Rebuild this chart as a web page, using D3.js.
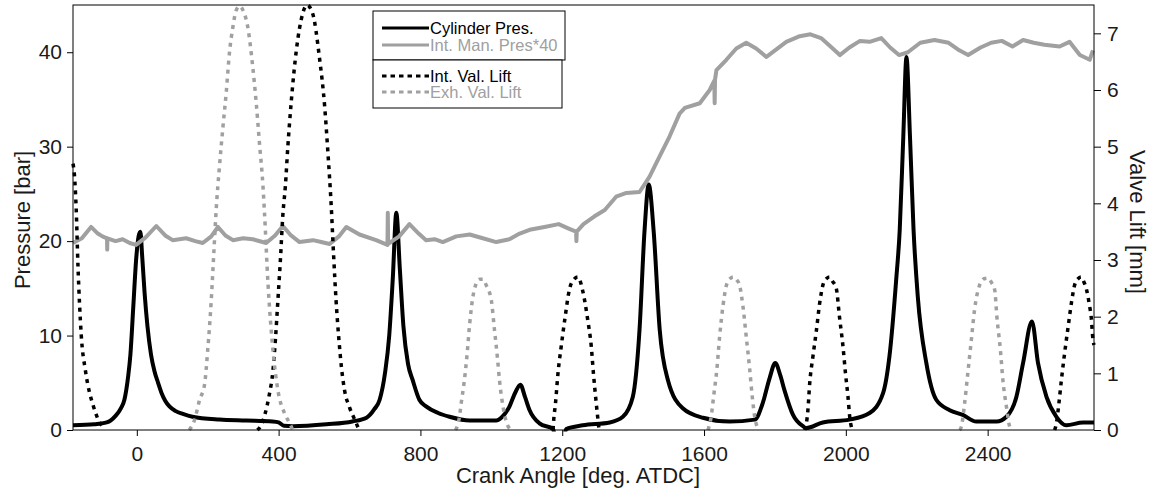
<!DOCTYPE html>
<html>
<head>
<meta charset="utf-8">
<script src="https://cdn.jsdelivr.net/npm/d3@7"></script>
<style>
  body { margin: 0; background: #fff; }
  svg { display: block; font-family: "Liberation Sans", Arial, sans-serif; }
</style>
</head>
<body>
<svg id="chart" width="1155" height="492"></svg>
<script>
// cylinder pressure [bar] vs crank angle
const cylAngle = [-180, -120, -85, -60, -45, -35, -25, -18, -10, -2, 5, 10, 15, 22, 30, 40, 50, 60, 70, 80, 92, 110, 130, 157, 233, 309, 383, 400, 415, 440, 535, 608, 648, 670, 685, 700, 712, 722, 732, 742, 752, 765, 778, 797, 816, 850, 882, 939, 1014, 1028, 1050, 1068, 1082, 1095, 1108, 1136, 1174, 1180, 1205, 1211, 1258, 1334, 1371, 1399, 1418, 1432, 1444, 1458, 1475, 1498, 1540, 1597, 1672, 1743, 1766, 1785, 1801, 1815, 1827, 1851, 1879, 1888, 1935, 2010, 2067, 2105, 2123, 2142, 2152, 2162, 2171, 2181, 2191, 2203, 2227, 2255, 2293, 2330, 2368, 2425, 2453, 2481, 2500, 2525, 2542, 2566, 2594, 2622, 2669, 2700];
const cylPres  = [0.5, 0.6, 0.8, 1.5, 2.3, 3.2, 5.5, 8, 13, 18, 20.5, 21, 18.5, 14.5, 11, 8, 6.2, 5.0, 3.9, 3.1, 2.5, 2.0, 1.7, 1.4, 1.1, 1.0, 0.9, 0.8, 0.45, 0.4, 0.6, 0.9, 1.3, 2.2, 3.2, 6, 10, 16, 23, 17, 11, 7, 5.3, 3.2, 2.5, 1.8, 1.4, 1.0, 1.0, 1.3, 2.4, 4, 4.8, 3.5, 2.1, 0.7, 0.1, -0.6, -0.6, 0.1, 0.5, 0.8, 1.4, 3.5, 10.6, 21, 26, 21, 10.6, 5.3, 2.3, 1.3, 0.9, 1.1, 2.9, 5.5, 7.1, 5.8, 4.2, 1.6, 0.4, 0.2, 0.8, 1.1, 1.8, 3.9, 7.8, 15.9, 21.2, 31, 39.5, 31, 21.2, 14.1, 7.1, 3.2, 2.1, 1.6, 0.9, 0.9, 1.4, 3.5, 7.1, 11.5, 7.1, 3.5, 1.4, 0.5, 0.8, 0.8];

// intake manifold pressure * 40 [bar]
const manAngle = [-180, -155, -129, -110, -97, -84, -83.5, -83, -60, -40, -20, -2, 25, 55, 80, 101, 139, 165, 186, 210, 229, 250, 271, 300, 327, 365, 390, 412, 435, 459, 497, 520, 544, 570, 591, 628, 675, 707, 708, 709, 740, 769, 795, 816, 840, 863, 901, 939, 976, 1014, 1051, 1080, 1108, 1150, 1190, 1220, 1239, 1240, 1241, 1260, 1290, 1320, 1352, 1381, 1418, 1446, 1475, 1503, 1531, 1546, 1588, 1616, 1629, 1630, 1631, 1635, 1663, 1691, 1719, 1747, 1776, 1804, 1832, 1870, 1900, 1930, 1960, 1983, 2010, 2040, 2067, 2100, 2125, 2150, 2175, 2210, 2250, 2290, 2320, 2345, 2380, 2410, 2440, 2470, 2500, 2530, 2560, 2603, 2631, 2660, 2688, 2697];
const manPres  = [19.8, 20.3, 21.5, 20.8, 20.5, 20.3, 19.1, 20.3, 20.0, 20.2, 19.8, 19.6, 20.4, 21.6, 20.6, 20.1, 20.3, 20.0, 19.8, 20.5, 21.5, 20.6, 20.1, 20.3, 20.2, 19.8, 20.6, 21.6, 20.6, 19.9, 20.1, 19.9, 19.7, 20.5, 21.5, 20.7, 20.1, 19.6, 23.0, 19.7, 20.5, 21.8, 20.8, 20.1, 20.2, 19.9, 20.5, 20.7, 20.3, 19.9, 20.2, 20.8, 21.2, 21.5, 21.8, 21.3, 21.0, 20.0, 21.0, 21.8, 22.6, 23.3, 24.7, 25.1, 25.2, 26.8, 29.0, 31.1, 33.5, 34.1, 34.6, 36.0, 37.0, 34.6, 37.1, 38.1, 39.2, 40.4, 41.0, 40.4, 39.5, 40.3, 41.1, 41.7, 41.9, 41.5, 40.5, 39.7, 40.5, 41.2, 41.1, 41.5, 40.5, 39.7, 40.0, 41.0, 41.3, 41.0, 40.2, 39.7, 40.5, 41.0, 41.2, 40.6, 41.3, 41.0, 40.8, 40.6, 41.1, 39.7, 39.2, 40.2];

// intake valve lift [mm], null = valve closed
const intAngle = [-180, -176, -171, -166, -157, -145, -133, -124, -110, -96, -95,
  340, 352, 362, 373, 384, 391, 398, 405, 412, 419, 426, 436, 450, 468, 480, 496, 515, 530, 539, 548, 555, 562, 570, 577, 586, 600, 617, 627, 628,
  1174, 1176, 1181, 1188, 1197, 1207, 1221, 1232, 1244, 1258, 1272, 1282, 1288, 1296, 1300, 1304, 1305,
  1884, 1893, 1898, 1907, 1917, 1926, 1935, 1945, 1954, 1963, 1973, 1982, 1992, 1999, 2006, 2011, 2018, 2019,
  2589, 2594, 2601, 2608, 2617, 2627, 2636, 2645, 2655, 2664, 2671, 2678, 2688, 2692, 2697, 2700];
const intLift  = [4.7, 4.5, 3.9, 2.9, 1.7, 1.05, 0.65, 0.45, 0.2, 0.05, null,
  0, 0.1, 0.29, 0.6, 1.05, 1.6, 2.29, 3.0, 3.8, 4.3, 5.0, 5.82, 6.7, 7.35, 7.5, 7.35, 6.58, 5.7, 4.9, 4.0, 3.1, 2.29, 1.6, 1.12, 0.7, 0.4, 0.15, 0, null,
  0, 0.18, 0.47, 1.0, 1.47, 1.94, 2.5, 2.65, 2.7, 2.45, 1.94, 1.47, 1.0, 0.47, 0.23, 0, null,
  0, 0.35, 0.82, 1.29, 1.76, 2.23, 2.55, 2.67, 2.7, 2.62, 2.5, 2.0, 1.47, 1.0, 0.59, 0.23, 0, null,
  0, 0.12, 0.47, 0.88, 1.35, 1.82, 2.23, 2.55, 2.67, 2.7, 2.62, 2.5, 2.17, 2.0, 1.6, 1.5];

// exhaust valve lift [mm]
const exhAngle = [148, 163, 177, 191, 200, 210, 217, 224, 233, 243, 252, 262, 271, 280, 290, 300, 313, 327, 337, 346, 356, 360, 370, 384, 398, 417, 431, 440, 441,
  899, 910, 915, 924, 931, 939, 948, 957, 967, 976, 986, 1000, 1009, 1017, 1023, 1033, 1042, 1056, 1057,
  1611, 1620, 1627, 1636, 1644, 1653, 1663, 1673, 1683, 1692, 1700, 1710, 1719, 1729, 1736, 1743, 1755, 1756,
  2321, 2326, 2335, 2344, 2354, 2363, 2377, 2390, 2401, 2411, 2420, 2426, 2436, 2443, 2453, 2462, 2466];
const exhLift  = [0, 0.18, 0.53, 0.8, 1.41, 2.29, 3.1, 3.9, 4.64, 5.35, 5.94, 6.7, 7.11, 7.4, 7.48, 7.4, 7.11, 6.41, 5.76, 5.06, 4.29, 3.85, 2.59, 1.41, 0.7, 0.29, 0.12, 0, null,
  0, 0.23, 0.47, 0.88, 1.29, 1.88, 2.35, 2.58, 2.66, 2.66, 2.55, 2.29, 1.76, 1.29, 0.88, 0.41, 0.15, 0, null,
  0, 0.23, 0.59, 1.06, 1.65, 2.17, 2.55, 2.67, 2.7, 2.65, 2.56, 2.17, 1.65, 1.06, 0.59, 0.23, 0, null,
  0, 0.06, 0.47, 1.0, 1.59, 2.12, 2.55, 2.67, 2.68, 2.6, 2.47, 2.0, 1.41, 0.88, 0.41, 0.06, 0];

const xTicks = [0, 400, 800, 1200, 1600, 2000, 2400];
const yTicks = [0, 10, 20, 30, 40];
const y2Ticks = [0, 1, 2, 3, 4, 5, 6, 7];
const legendLabels = ['Cylinder Pres.', 'Int. Man. Pres*40', 'Int. Val. Lift', 'Exh. Val. Lift'];

const GRAY = '#a0a0a0';
const svg = d3.select('#chart');
const pL = 73, pR = 1094, pT = 5, pB = 430;

const x = d3.scaleLinear().domain([-180, 2700]).range([pL, pR]);
const y = d3.scaleLinear().domain([0, 45]).range([pB, pT]);
const y2 = d3.scaleLinear().domain([0, 7.5]).range([pB, pT]);

svg.append('defs').append('clipPath').attr('id', 'clip')
  .append('rect').attr('x', pL).attr('y', pT - 3).attr('width', pR - pL).attr('height', pB - pT + 4.5);

const zip = (a, b) => a.map((v, i) => [v, b[i]]);

const line = d3.line()
  .defined(d => d[1] != null)
  .x(d => x(d[0]))
  .y(d => y(d[1]));
const line2 = d3.line()
  .defined(d => d[1] != null)
  .x(d => x(d[0]))
  .y(d => y2(d[1]))
  .curve(d3.curveMonotoneX);

const plot = svg.append('g');

plot.append('path')
  .attr('clip-path', 'url(#clip)')
  .attr('d', line.curve(d3.curveMonotoneX)(zip(cylAngle, cylPres)))
  .attr('fill', 'none').attr('stroke', '#000').attr('stroke-width', 4)
  .attr('stroke-linejoin', 'round');

plot.append('path')
  .attr('d', line.curve(d3.curveLinear)(zip(manAngle, manPres)))
  .attr('fill', 'none').attr('stroke', GRAY).attr('stroke-width', 4)
  .attr('stroke-linejoin', 'round');

plot.append('path')
  .attr('d', line2(zip(intAngle, intLift)))
  .attr('fill', 'none').attr('stroke', '#000').attr('stroke-width', 3.5)
  .attr('stroke-dasharray', '4,5');

plot.append('path')
  .attr('d', line2(zip(exhAngle, exhLift)))
  .attr('fill', 'none').attr('stroke', GRAY).attr('stroke-width', 3.5)
  .attr('stroke-dasharray', '4,5');

// frame
svg.append('rect')
  .attr('x', pL).attr('y', pT).attr('width', pR - pL).attr('height', pB - pT)
  .attr('fill', 'none').attr('stroke', '#000').attr('stroke-width', 1);

function styleAxis(g) {
  g.select('.domain').remove();
  g.selectAll('.tick line').attr('stroke', '#000');
  g.selectAll('.tick text').attr('fill', '#1a1a1a').style('font-size', '21px')
    .style('font-family', '"Liberation Sans", Arial, sans-serif');
}

svg.append('g').attr('transform', `translate(0,${pB})`)
  .call(d3.axisBottom(x).tickValues(xTicks).tickFormat(d3.format('d')).tickSize(6).tickPadding(10))
  .call(styleAxis);
svg.append('g').attr('transform', `translate(${pL},0)`)
  .call(d3.axisLeft(y).tickValues(yTicks).tickSize(6).tickPadding(5))
  .call(styleAxis);
svg.append('g').attr('transform', `translate(${pR},0)`)
  .call(d3.axisRight(y2).tickValues(y2Ticks).tickSize(7).tickPadding(6))
  .call(styleAxis);

svg.append('text')
  .attr('x', 578).attr('y', 483).attr('text-anchor', 'middle')
  .style('font-size', '22px').attr('fill', '#1a1a1a')
  .text('Crank Angle [deg. ATDC]');
svg.append('text')
  .attr('transform', 'translate(22,220) rotate(-90)')
  .attr('text-anchor', 'middle').attr('dominant-baseline', 'central')
  .style('font-size', '22px').attr('fill', '#1a1a1a')
  .text('Pressure [bar]');
svg.append('text')
  .attr('transform', 'translate(1137,222) rotate(90)')
  .attr('text-anchor', 'middle').attr('dominant-baseline', 'central')
  .style('font-size', '22px').attr('fill', '#1a1a1a')
  .text('Valve Lift [mm]');

// legends (two boxes, like two overlaid axes legends)
const leg = svg.append('g');
leg.append('rect').attr('x', 373).attr('y', 11).attr('width', 192).attr('height', 49)
  .attr('fill', '#fff').attr('stroke', '#000').attr('stroke-width', 1);
leg.append('rect').attr('x', 373).attr('y', 60).attr('width', 189).attr('height', 48)
  .attr('fill', '#fff').attr('stroke', '#000').attr('stroke-width', 1);

const legItems = [
  { y: 28, color: '#000', dash: null, text: '#000' },
  { y: 45, color: GRAY, dash: null, text: GRAY },
  { y: 76, color: '#000', dash: '4.5,4', text: '#000' },
  { y: 92, color: GRAY, dash: '4.5,4', text: GRAY }
];
legItems.forEach((d, i) => {
  leg.append('line')
    .attr('x1', 382).attr('x2', 429).attr('y1', d.y).attr('y2', d.y)
    .attr('stroke', d.color).attr('stroke-width', 3.2)
    .attr('stroke-dasharray', d.dash);
  leg.append('text')
    .attr('x', 430).attr('y', d.y).attr('dominant-baseline', 'central')
    .style('font-size', '16.5px').attr('fill', d.text)
    .text(legendLabels[i]);
});
</script>
</body>
</html>
